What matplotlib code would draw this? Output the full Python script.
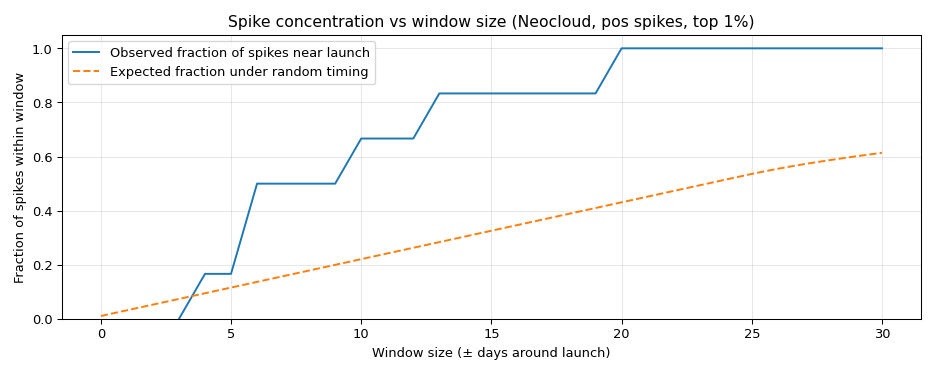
import numpy as np
import matplotlib.pyplot as plt

windows = np.arange(0, 31)
# first three windows sit under the bottom spine in the reference
observed = [np.nan, np.nan, np.nan, 0, 1/6, 1/6, 0.5, 0.5, 0.5, 0.5,
            2/3, 2/3, 2/3, 5/6, 5/6, 5/6, 5/6, 5/6, 5/6, 5/6,
            1, 1, 1, 1, 1, 1, 1, 1, 1, 1, 1]
expected = [0.011, 0.032, 0.053, 0.074, 0.095, 0.116, 0.137, 0.158, 0.179, 0.200,
            0.221, 0.242, 0.263, 0.284, 0.305, 0.326, 0.347, 0.368, 0.389, 0.410,
            0.431, 0.452, 0.473, 0.494, 0.515, 0.536, 0.555, 0.572, 0.587, 0.601,
            0.614]

fig, ax = plt.subplots(figsize=(10, 4), dpi=93.6)
ax.plot(windows, observed, label="Observed fraction of spikes near launch")
ax.plot(windows, expected, linestyle="--", label="Expected fraction under random timing")
ax.set_ylim(0, 1.05)
ax.set_xlabel("Window size (± days around launch)")
ax.set_ylabel("Fraction of spikes within window")
ax.set_title("Spike concentration vs window size (Neocloud, pos spikes, top 1%)")
ax.grid(True, alpha=0.3)
ax.legend(loc="upper left")
fig.subplots_adjust(left=0.066, right=0.984, top=0.906, bottom=0.147)
fig.savefig("out.png", dpi=93.6)
